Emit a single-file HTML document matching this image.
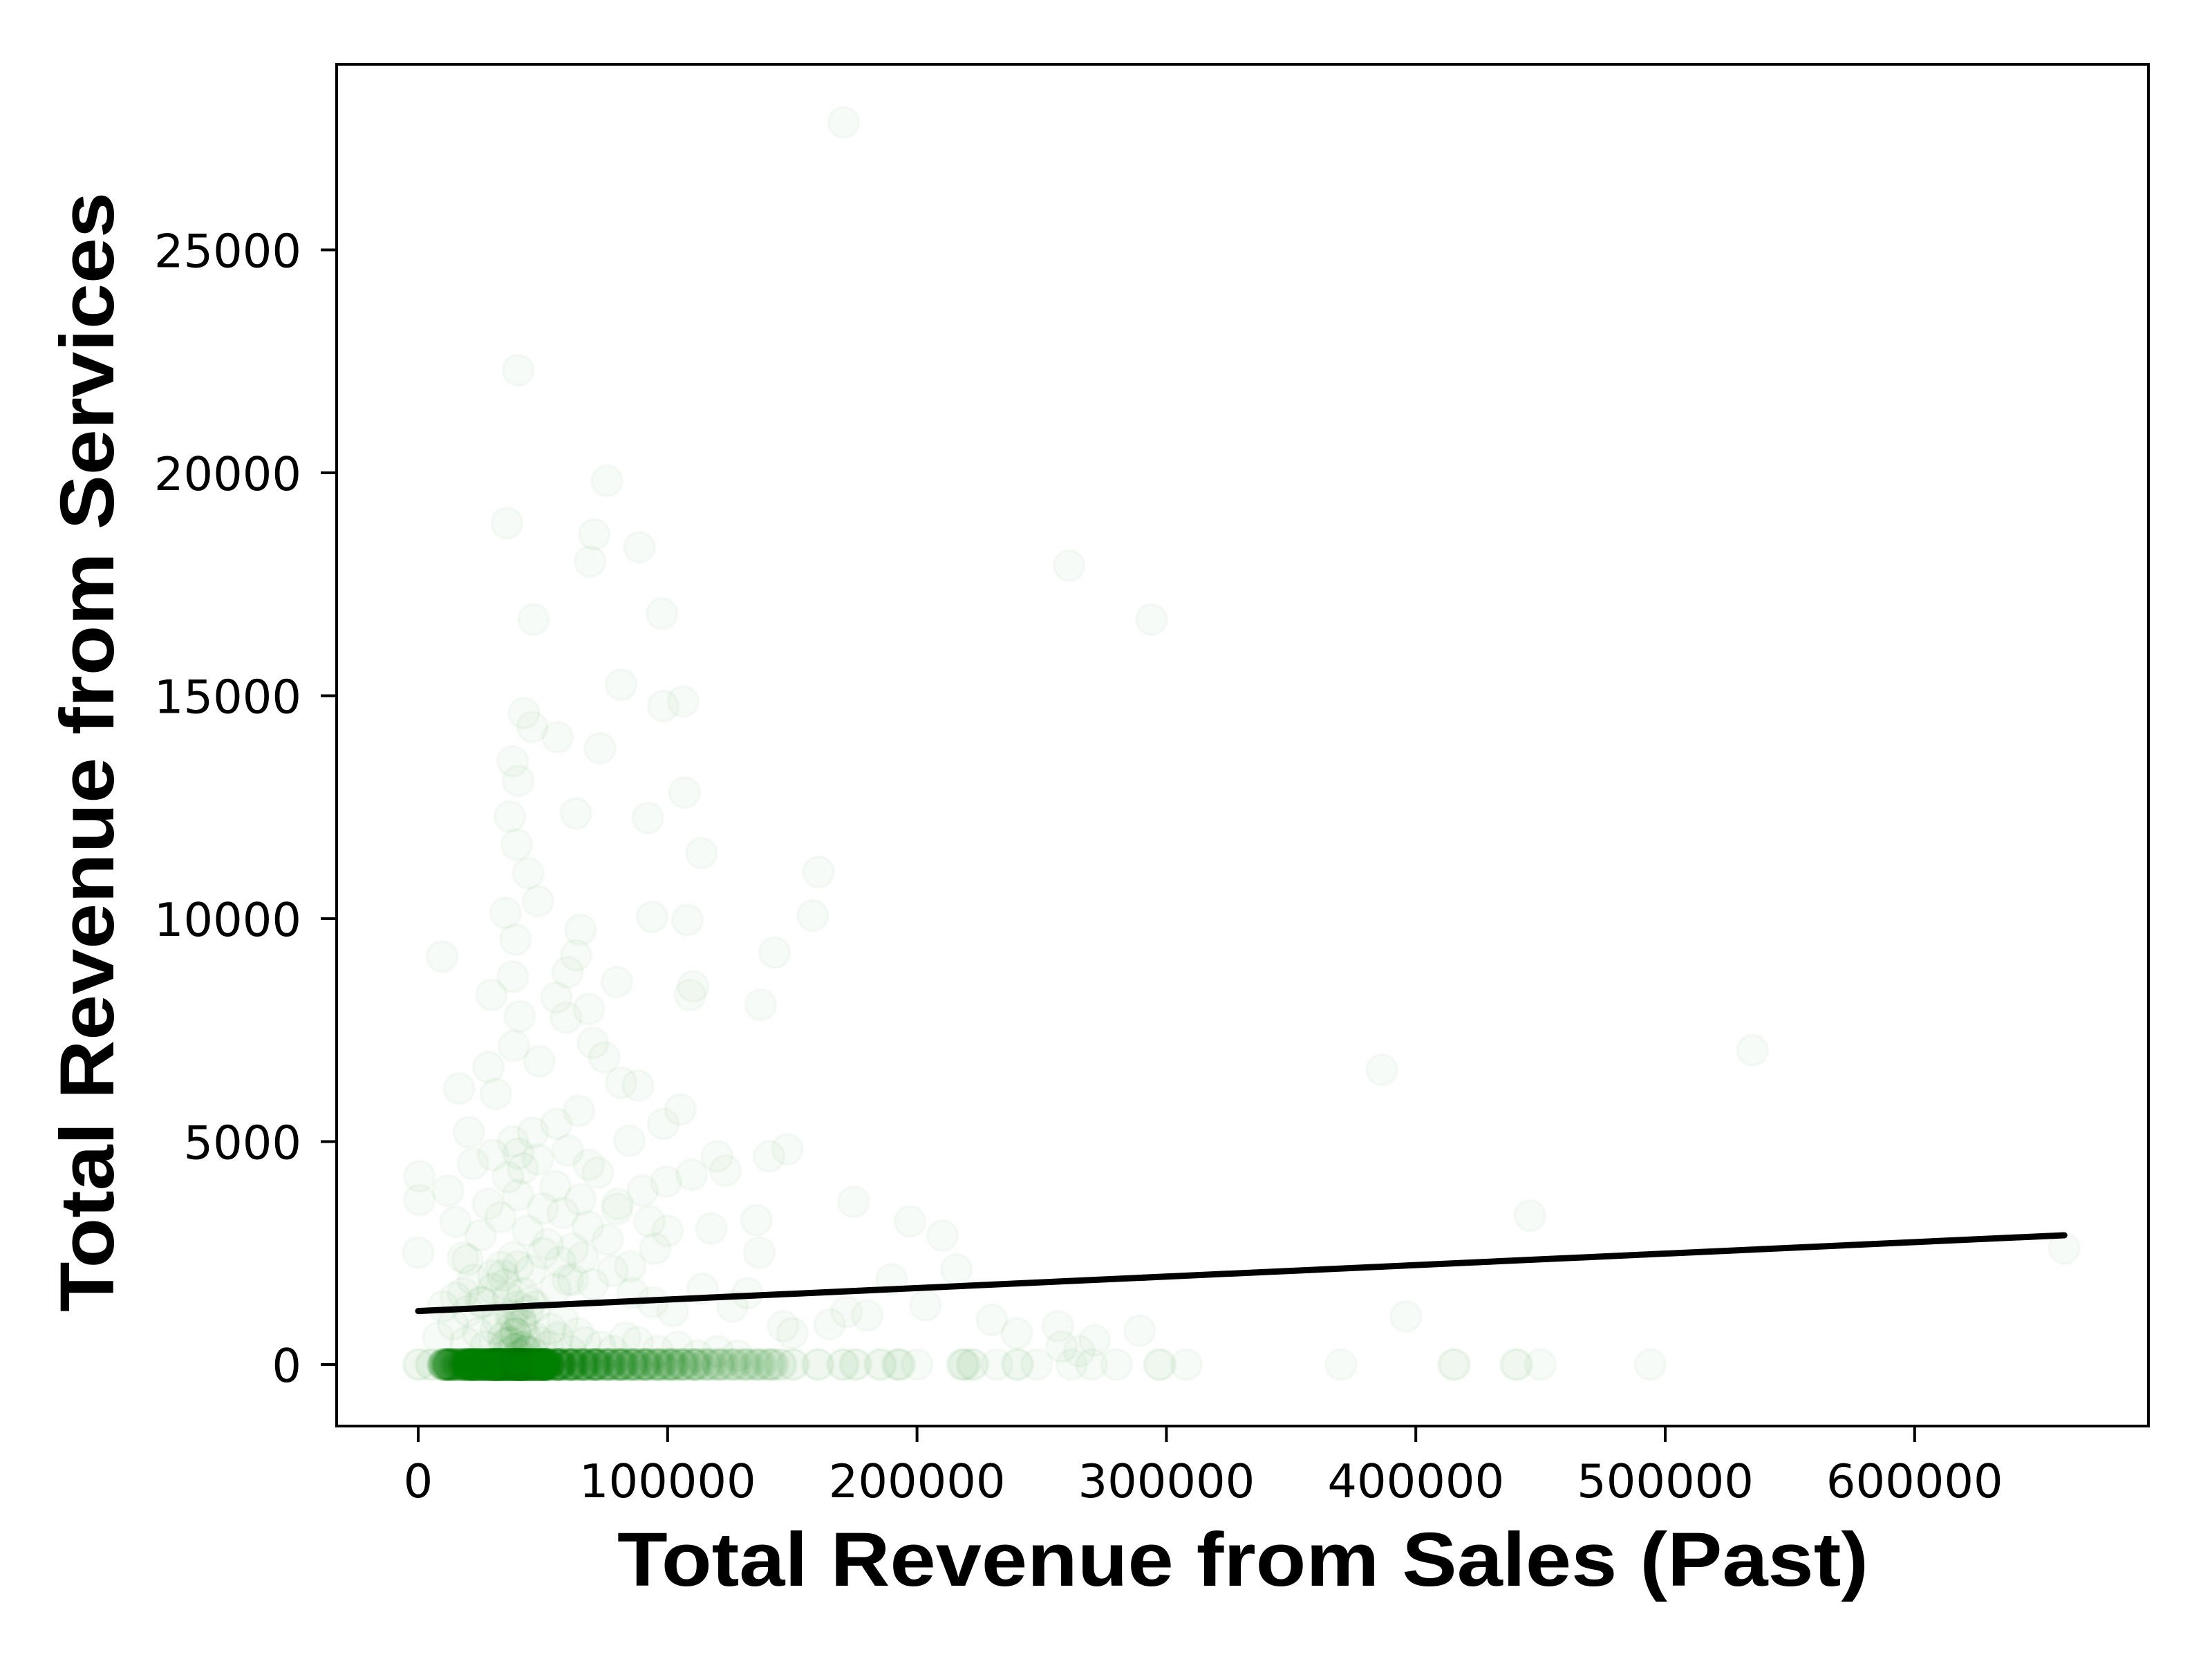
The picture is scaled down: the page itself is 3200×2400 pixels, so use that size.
<!DOCTYPE html>
<html><head><meta charset="utf-8"><style>
html,body{margin:0;padding:0;background:#fff;}
svg{display:block;}
</style></head><body>
<svg id="chart" width="3200" height="2400" viewBox="0 0 3200 2400" xmlns="http://www.w3.org/2000/svg">
<rect x="0" y="0" width="3200" height="2400" fill="#fff"/>
<g id="points"></g>
<g id="reg"></g>
<rect x="487" y="93" width="2621" height="1970" fill="none" stroke="#000" stroke-width="4"/>
<g id="xticks"></g>
<g id="yticks"></g>
<text x="1798" y="2294" text-anchor="middle" font-family="'Liberation Sans', Arial, sans-serif" font-weight="bold" font-size="110" textLength="1810" lengthAdjust="spacingAndGlyphs">Total Revenue from Sales (Past)</text>
<text x="0" y="0" transform="translate(164,1088) rotate(-90)" text-anchor="middle" font-family="'Liberation Sans', Arial, sans-serif" font-weight="bold" font-size="110" textLength="1620" lengthAdjust="spacingAndGlyphs">Total Revenue from Services</text>
</svg>
<script>
// x values in thousands of sales revenue, y values in services revenue
const scatterX = [170.6,40.1,75.7,35.6,70.6,88.7,68.9,261,294,46.3,97.7,81.4,98.3,106.2,42.4,45.8,55.9,72.9,37.9,40.1,106.8,92.1,63.3,36.7,113.6,160.5,44.1,39.5,48,35,93.8,107.9,158.2,39,65,9.6,142.9,63.3,59.9,79.7,110.2,109,29.4,37.9,55.4,137.3,59.3,40.7,68.4,70.1,74.6,48.6,28.2,38.4,386.4,535,16.4,31.1,81.4,88.1,64.4,105.1,55.4,98.3,20.3,84.7,148,119.8,140.7,40.1,0.5,68.4,123.2,109.6,0.5,99.4,174.6,135.6,197.2,92.7,79.7,210.2,0,445.8,117.5,136.7,19.8,189.8,33.3,660,215.8,203.4,396,256.5,271.2,289.3,146.3,171.8,
 12,15,18,22,25,28,30,33,36,38,40,42,44,46,48,50,52,55,58,60,62,65,68,72,76,80,85,90,95,100,
 30,35,38,40,42,45,50,55,60,25,20,15,10,32,37,41,47,53,58,64,
 8,14,19,24,27,31,34,36,39,41,43,47,49,52,56,61,67,73,78,83,88,96,104,112,120,128,
 36,38,40,42,44,39,41,37,43,45,
 34,36,38,40,42,44,46,35,39,41,43,37,
 18,22,26,30,34,57,62,66,70,78,86,94,102,114,126,132,150,165,180,230,240,258,265];
const scatterY = [27860,22300,19820,18870,18620,18330,18010,17920,16710,16710,16840,15250,14770,14870,14610,14300,14070,13820,13530,13090,12830,12260,12360,12290,11470,11050,11020,11660,10390,10130,10040,9970,10070,9530,9750,9150,9240,9180,8800,8580,8480,8290,8290,8700,8230,8070,7780,7810,7970,7210,6890,6800,6670,7150,6610,7050,6190,6070,6320,6260,5690,5720,5400,5400,5210,5020,4830,4670,4670,4730,4220,4480,4350,4260,3690,4100,3650,3240,3210,3210,3490,2890,2510,3340,3050,2510,2350,1910,2190,2600,2130,1330,1080,860,540,760,860,1180,
 3900,3200,2400,4500,2900,3600,4700,3300,4200,5000,3800,4400,3000,5200,4600,3500,2700,4000,3400,4800,2600,3700,3100,4300,2800,3600,2200,3900,2600,3000,
 2000,1800,2400,2200,1600,2100,2500,1700,1900,1400,1200,1500,1300,1000,1100,900,1300,800,1000,700,
 600,900,500,700,400,800,600,500,700,400,300,600,500,400,600,300,500,400,300,600,500,300,400,200,300,200,
 1500,1100,1300,900,1200,700,1000,800,600,1400,
 300,250,350,200,400,300,250,450,350,200,300,500,
 1600,1900,1400,1700,2000,2300,1900,2400,1800,2100,1600,1400,1200,1700,1300,1600,700,900,1100,1000,700,400,300];
// zero-service row: sales (thousands) and how many stacked points
const zeroRowX = [0,5,10,12,15,18,20,22,25,28,30,32,35,38,40,42,45,48,50,55,60,65,70,75,80,85,90,95,100,105,110,115,120,125,130,135,140,145,150,160,170,175,185,192,200,218,222,232,240,248,262,270,280,297,308,370,415,440,450,494];
const zeroRowCount = [2,2,18,18,14,18,24,24,30,30,35,35,40,40,40,35,35,30,30,24,20,18,18,14,14,12,12,10,10,8,8,6,6,5,5,5,5,2,2,2,2,2,2,3,1,3,2,1,2,1,1,1,1,2,1,1,2,2,1,1];
const regX = [0,660000];
const regY = [1200,2900];
const xTicks = [0,100000,200000,300000,400000,500000,600000];
const yTicks = [0,5000,10000,15000,20000,25000];

const NS='http://www.w3.org/2000/svg';
function X(v){return 605 + v*360.8/100000;}
function Y(v){return 1974 - v*322.5/5000;}
const pg=document.getElementById('points');
function dot(xv,yv){
  const c=document.createElementNS(NS,'circle');
  c.setAttribute('cx',X(xv));c.setAttribute('cy',Y(yv));c.setAttribute('r',22);
  c.setAttribute('fill','rgb(0,128,0)');c.setAttribute('fill-opacity','0.032');
  c.setAttribute('stroke','rgb(0,128,0)');c.setAttribute('stroke-opacity','0.032');c.setAttribute('stroke-width','4');
  
  
  pg.appendChild(c);
}
for(let i=0;i<scatterX.length;i++) dot(scatterX[i]*1000,scatterY[i]);
for(let i=0;i<zeroRowX.length;i++){
  for(let k=0;k<zeroRowCount[i];k++) dot(zeroRowX[i]*1000 + (k%5)*600,0);
}
const rg=document.getElementById('reg');
const ln=document.createElementNS(NS,'line');
ln.setAttribute('x1',X(regX[0]));ln.setAttribute('y1',Y(regY[0]));
ln.setAttribute('x2',X(regX[1]));ln.setAttribute('y2',Y(regY[1]));
ln.setAttribute('stroke','#000');ln.setAttribute('stroke-width','9');ln.setAttribute('stroke-linecap','round');


rg.appendChild(ln);
const xg=document.getElementById('xticks');
xTicks.forEach(t=>{
  const l=document.createElementNS(NS,'line');
  l.setAttribute('x1',X(t));l.setAttribute('x2',X(t));l.setAttribute('y1',2063);l.setAttribute('y2',2086);
  l.setAttribute('stroke','#000');l.setAttribute('stroke-width','4');
  
  
  xg.appendChild(l);
  const tx=document.createElementNS(NS,'text');
  tx.setAttribute('x',X(t));tx.setAttribute('y',2166);tx.setAttribute('text-anchor','middle');
  tx.setAttribute('font-family',"'DejaVu Sans', sans-serif");tx.setAttribute('font-size','67');
  tx.textContent=String(t);
  
  
  xg.appendChild(tx);
});
const yg=document.getElementById('yticks');
yTicks.forEach(t=>{
  const l=document.createElementNS(NS,'line');
  l.setAttribute('x1',464);l.setAttribute('x2',487);l.setAttribute('y1',Y(t));l.setAttribute('y2',Y(t));
  l.setAttribute('stroke','#000');l.setAttribute('stroke-width','4');
  
  
  yg.appendChild(l);
  const tx=document.createElementNS(NS,'text');
  tx.setAttribute('x',436);tx.setAttribute('y',Y(t)+25);tx.setAttribute('text-anchor','end');
  tx.setAttribute('font-family',"'DejaVu Sans', sans-serif");tx.setAttribute('font-size','67');
  tx.textContent=String(t);
  
  
  yg.appendChild(tx);
});
</script>
</body></html>
